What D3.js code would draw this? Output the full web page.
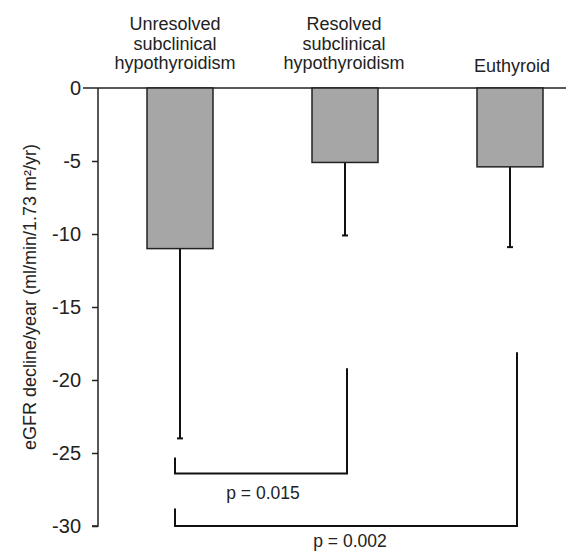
<!DOCTYPE html>
<html>
<head>
<meta charset="utf-8">
<script src="https://cdn.jsdelivr.net/npm/d3@7"></script>
<style>
  html, body { margin: 0; padding: 0; background: #fff; }
  svg { display: block; font-family: "Liberation Sans", Arial, sans-serif; }
</style>
</head>
<body>
<div id="chart"></div>
<script>
// data
var categories = ["Unresolved\nsubclinical\nhypothyroidism", "Resolved\nsubclinical\nhypothyroidism", "Euthyroid"];
var means = [-11.0, -5.1, -5.4];
var sds = [13.0, 5.0, 5.5];
var yTicks = [0, -5, -10, -15, -20, -25, -30];
var yTickLabels = ["0", "-5", "-10", "-15", "-20", "-25", "-30"];
// comparisons: from / to category index, bracket level, tip heights, p text
var pFrom = [0, 0];
var pTo = [1, 2];
var pLevel = [-26.4, -30];
var pTipFrom = [-25.3, -28.8];
var pTipTo = [-19.2, -18.1];
var pLabels = ["p = 0.015", "p = 0.002"];

var width = 566, height = 552;
var svg = d3.select("#chart").append("svg").attr("width", width).attr("height", height);

var x = d3.scaleBand().domain(d3.range(categories.length)).range([97.5, 592.5]).paddingInner(0.6).paddingOuter(0.3);
var y = d3.scaleLinear().domain([0, -30]).range([88, 526]);
var cx = function(i){ return x(i) + x.bandwidth() / 2; };

// zero line across the plot
svg.append("line").attr("x1", 83).attr("x2", width).attr("y1", y(0)).attr("y2", y(0))
    .attr("stroke", "#222").attr("stroke-width", 1.5);

// y axis
var axisY = d3.axisLeft(y).tickValues(yTicks).tickSize(6).tickPadding(11)
    .tickFormat(function(d, i){ return yTickLabels[i]; });
var gy = svg.append("g").attr("transform", "translate(98,0)").call(axisY);
gy.select(".domain").attr("stroke", "#222").attr("stroke-width", 1.5).attr("d", "M-6," + y(-30) + "H0V" + y(0));
gy.selectAll(".tick line").attr("stroke", "#222").attr("stroke-width", 1.5);
gy.selectAll(".tick").filter(function(d){ return d === 0; }).select("line").remove();
gy.selectAll(".tick text").attr("fill", "#222").style("font-size", "20px").attr("dy", "0.34em");

// y label
svg.append("text").attr("transform", "translate(36," + 297 + ") rotate(-90)")
    .attr("text-anchor", "middle").attr("fill", "#222").style("font-size", "18px")
    .text("eGFR decline/year (ml/min/1.73 m²/yr)");

// error bars
var err = svg.append("g");
means.forEach(function(m, i){
    var lo = y(m - sds[i]);
    err.append("line").attr("x1", cx(i)).attr("x2", cx(i)).attr("y1", y(m)).attr("y2", lo)
        .attr("stroke", "#111").attr("stroke-width", 2);
    err.append("line").attr("x1", cx(i) - 3).attr("x2", cx(i) + 3).attr("y1", lo).attr("y2", lo)
        .attr("stroke", "#111").attr("stroke-width", 2);
});

// bars
svg.append("g").selectAll("rect").data(means).enter().append("rect")
    .attr("x", function(d, i){ return x(i); })
    .attr("y", y(0))
    .attr("width", x.bandwidth())
    .attr("height", function(d){ return y(d) - y(0); })
    .attr("fill", "#a6a6a6").attr("stroke", "#222").attr("stroke-width", 1.5);

// category labels on top
var labelNudge = [[-5, 0], [-1, 0], [2, 3]];
categories.forEach(function(c, i){
    var lines = c.split("\n");
    var t = svg.append("text").attr("text-anchor", "middle").attr("fill", "#222").style("font-size", "18px");
    lines.forEach(function(l, j){
        t.append("tspan").attr("x", cx(i) + labelNudge[i][0])
            .attr("y", 69 + labelNudge[i][1] - (lines.length - 1 - j) * 19.5).text(l);
    });
});

// significance brackets
var bx0 = [-5, -5], bx1 = [2, 7];
pLabels.forEach(function(p, k){
    var xa = cx(pFrom[k]) + bx0[k], xb = cx(pTo[k]) + bx1[k];
    svg.append("path")
        .attr("d", "M" + xa + "," + y(pTipFrom[k]) + "V" + y(pLevel[k]) + "H" + xb + "V" + y(pTipTo[k]))
        .attr("fill", "none").attr("stroke", "#111").attr("stroke-width", 2);
});
svg.append("text").attr("x", 263).attr("y", 499).attr("text-anchor", "middle").attr("fill", "#222")
    .style("font-size", "17.5px").text(pLabels[0]);
svg.append("text").attr("x", 350).attr("y", 547).attr("text-anchor", "middle").attr("fill", "#222")
    .style("font-size", "17.5px").text(pLabels[1]);
</script>
</body>
</html>
